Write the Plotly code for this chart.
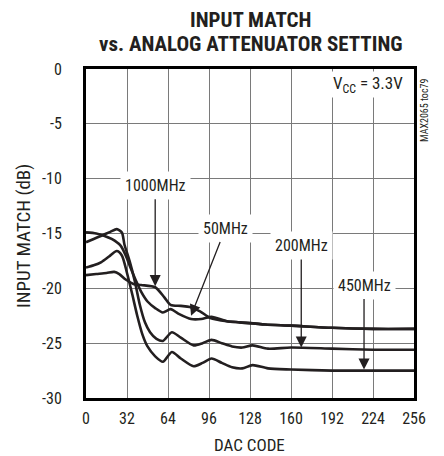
import plotly.graph_objects as go

# ---- data ----
codes_1000 = [0, 8, 16, 22, 26, 31, 37, 43, 54, 61, 66, 74, 81, 89, 97, 110, 120, 140, 160, 192, 224, 256]
match_1000 = [-18.8, -18.7, -18.6, -18.5, -18.7, -19.2, -19.6, -19.7, -19.9, -20.8, -21.5, -21.6, -21.7, -22.1, -22.7, -23.0, -23.1, -23.3, -23.4, -23.6, -23.7, -23.7]

codes_50 = [0, 8, 14, 20, 27, 31, 35, 39, 43, 48, 54, 60, 66, 72, 82, 90, 98, 110, 120, 140, 160, 192, 224, 256]
match_50 = [-14.9, -15.0, -15.2, -15.5, -16.1, -17.0, -18.2, -19.3, -20.3, -21.2, -21.8, -22.2, -21.9, -22.3, -22.8, -22.8, -22.6, -23.0, -23.1, -23.3, -23.4, -23.6, -23.7, -23.7]

codes_200 = [0, 6, 12, 19, 24, 28, 30, 34, 38, 42, 46, 50, 55, 60, 67, 74, 84, 91, 98, 106, 114, 122, 130, 142, 160, 192, 224, 256]
match_200 = [-15.8, -15.5, -15.2, -14.85, -14.6, -14.9, -16.0, -17.5, -19.3, -21.5, -23.1, -24.0, -24.6, -24.8, -24.0, -24.5, -25.2, -25.0, -24.7, -25.0, -25.3, -25.4, -25.2, -25.5, -25.4, -25.5, -25.6, -25.6]

codes_450 = [0, 6, 12, 18, 24, 28, 32, 36, 40, 44, 48, 54, 60, 67, 74, 84, 91, 98, 106, 114, 122, 130, 142, 160, 192, 224, 256]
match_450 = [-18.1, -17.9, -17.6, -17.1, -16.6, -17.0, -18.6, -20.5, -22.5, -24.2, -25.3, -26.2, -26.7, -25.8, -26.4, -27.1, -26.8, -26.4, -26.8, -27.2, -27.3, -27.0, -27.3, -27.4, -27.5, -27.5, -27.5]

x_ticks = [0, 32, 64, 96, 128, 160, 192, 224, 256]
x_tick_labels = ["0", "32", "64", "96", "128", "160", "192", "224", "256"]
y_ticks = [0, -5, -10, -15, -20, -25, -30]
y_tick_labels = ["0", "-5", "-10", "-15", "-20", "-25", "-30"]

# label text, label position (arrow tail starts at the label box), arrow tip (data coords)
labels = ["1000MHz", "50MHz", "200MHz", "450MHz"]
label_x = [54, 109, 168, 217]
label_y = [-10.6, -14.5, -16.1, -19.7]
arrow_tip_x = [54, 82, 168, 217]
arrow_tip_y = [-19.8, -22.5, -25.4, -27.4]

INK = "#231f20"
FONT = "Roboto Condensed, Liberation Sans Narrow, DejaVu Sans Condensed, Roboto, sans-serif"


def py(ypix):
    """page pixel row -> paper y (plot spans rows 69..398)"""
    return (398 - ypix) / 329


def px(xpix):
    """page pixel column -> paper x (plot spans columns 86..414)"""
    return (xpix - 86) / 328


fig = go.Figure()
for xs, ys, name in [(codes_1000, match_1000, "1000MHz"), (codes_50, match_50, "50MHz"),
                     (codes_200, match_200, "200MHz"), (codes_450, match_450, "450MHz")]:
    fig.add_trace(go.Scatter(x=xs, y=ys, mode="lines", name=name,
                             line=dict(color=INK, width=2.6, shape="spline", smoothing=0.7),
                             showlegend=False, hoverinfo="skip"))

annotations = []
# labels with arrows
for t, lx, ly, hx, hy in zip(labels, label_x, label_y, arrow_tip_x, arrow_tip_y):
    annotations.append(dict(x=hx, y=hy, ax=lx, ay=ly, xref="x", yref="y", axref="x", ayref="y",
                            text=t, showarrow=True, arrowhead=2, arrowsize=1.7, arrowwidth=1.3,
                            arrowcolor=INK, standoff=0, bgcolor="white", borderpad=4,
                            font=dict(family=FONT, size=16, color=INK)))
# Vcc annotation
annotations.append(dict(x=249, y=-1.4, xref="x", yref="y", xanchor="right", yanchor="middle",
                        text="V<sub>CC</sub> = 3.3V", showarrow=False, bgcolor="white", borderpad=1,
                        font=dict(family=FONT, size=17, color=INK)))
# side code
annotations.append(dict(x=1.03, y=0.875, xref="paper", yref="paper", xanchor="center", yanchor="middle",
                        text="MAX2065 toc79", textangle=-90, showarrow=False,
                        font=dict(family=FONT, size=10, color=INK)))
# title
annotations.append(dict(x=px(250), y=py(19.5), xref="paper", yref="paper", xanchor="center", yanchor="middle",
                        text="<b>INPUT MATCH</b>", showarrow=False,
                        font=dict(family=FONT, size=21, color=INK)))
annotations.append(dict(x=px(251), y=py(43.5), xref="paper", yref="paper", xanchor="center", yanchor="middle",
                        text="<b>vs. ANALOG ATTENUATOR SETTING</b>", showarrow=False,
                        font=dict(family=FONT, size=21, color=INK)))
# y-axis title
annotations.append(dict(x=px(23), y=py(236), xref="paper", yref="paper", xanchor="center", yanchor="middle",
                        text="INPUT MATCH (dB)", textangle=-90, showarrow=False,
                        font=dict(family=FONT, size=19, color=INK)))
# x-axis title
annotations.append(dict(x=px(249), y=py(445), xref="paper", yref="paper", xanchor="center", yanchor="middle",
                        text="DAC CODE", showarrow=False,
                        font=dict(family=FONT, size=17, color=INK)))

# page body adds an 8px margin, so the figure is 8px smaller and margins are shifted
fig.update_layout(
    width=436, height=448,
    margin=dict(l=78, r=30, t=61, b=58),
    paper_bgcolor="white", plot_bgcolor="white",
    font=dict(family=FONT, size=16, color=INK),
    annotations=annotations,
    xaxis=dict(range=[0, 256], tickvals=x_ticks, ticktext=x_tick_labels,
               showgrid=True, gridcolor="#7a7a7a", gridwidth=1,
               showline=True, linecolor="black", linewidth=3, mirror=True,
               ticks="", zeroline=False, ticklabelstandoff=4, automargin=False),
    yaxis=dict(range=[-30, 0], tickvals=y_ticks, ticktext=y_tick_labels,
               showgrid=True, gridcolor="#7a7a7a", gridwidth=1,
               showline=True, linecolor="black", linewidth=3, mirror=True,
               ticks="", zeroline=False, ticklabelstandoff=18, automargin=False),
)

fig.write_html("out.html")
